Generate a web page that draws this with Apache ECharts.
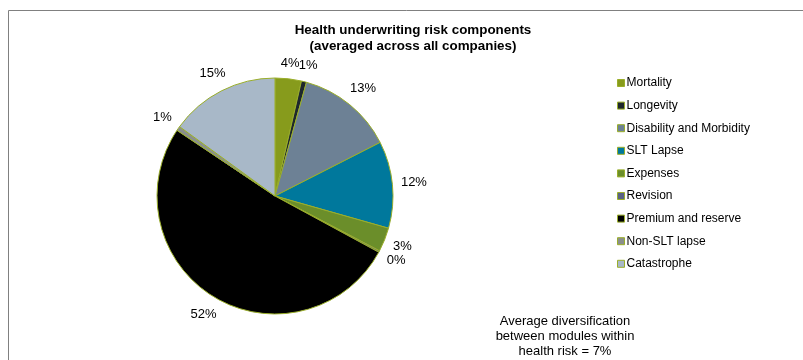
<!DOCTYPE html>
<html>
<head>
<meta charset="utf-8">
<script src="https://cdn.jsdelivr.net/npm/echarts@6/dist/echarts.min.js"></script>
<style>
  html, body { margin: 0; padding: 0; background: #fff; }
  #chart { width: 803px; height: 360px; }
</style>
</head>
<body>
<div id="chart"></div>
<script>
// risk components, clockwise from 12 o'clock
var components = ['Mortality', 'Longevity', 'Disability and Morbidity', 'SLT Lapse', 'Expenses',
    'Revision', 'Premium and reserve', 'Non-SLT lapse', 'Catastrophe'];
// share of total (percent)
var shares = [3.6, 0.7, 13.2, 11.9, 3.3, 0.2, 51.5, 0.6, 15.0];
var colours = ['#879b1c', '#1e272d', '#6d8195', '#00789c', '#6b8e2a',
    '#5a6384', '#000000', '#8a8f8c', '#a8b8c8'];

var pieCenter = [275, 196];
var pieRadius = 118;

var chart = echarts.init(document.getElementById('chart'));

chart.setOption({
    animation: false,
    textStyle: { fontFamily: 'Liberation Sans, Arial, sans-serif' },
    title: {
        text: 'Health underwriting risk components\n(averaged across all companies)',
        left: 408,
        textAlign: 'center',
        top: 17,
        textStyle: { fontSize: 13.4, fontWeight: 'bold', color: '#000', lineHeight: 16 }
    },
    legend: {
        orient: 'vertical',
        left: 612,
        top: 72,
        itemWidth: 7,
        itemHeight: 7,
        itemGap: 10.6,
        icon: 'rect',
        itemStyle: { borderColor: '#9aae2a', borderWidth: 1 },
        textStyle: { fontSize: 12, color: '#000', lineHeight: 12, padding: [0, 0, 0, -3] },
        data: components
    },
    graphic: [
        {
            type: 'rect',
            shape: { x: 8.5, y: 10.5, width: 820, height: 380 },
            style: { fill: 'none', stroke: '#808080', lineWidth: 1 },
            silent: true
        },
        {
            type: 'text',
            x: 565,
            y: 314,
            style: {
                text: 'Average diversification\nbetween modules within\nhealth risk = 7%',
                textAlign: 'center',
                textVerticalAlign: 'top',
                fontSize: 13,
                lineHeight: 15,
                fill: '#000',
                fontFamily: 'Liberation Sans, Arial, sans-serif'
            }
        }
    ],
    series: [{
        type: 'pie',
        center: pieCenter,
        radius: pieRadius,
        startAngle: 90,
        clockwise: true,
        avoidLabelOverlap: false,
        itemStyle: { borderColor: '#9aae2a', borderWidth: 1 },
        label: {
            position: 'outside',
            fontSize: 13,
            color: '#000',
            formatter: function (p) { return Math.round(p.value) + '%'; }
        },
        labelLine: { show: false, length: 6, length2: 0 },
        // centre each label on the slice bisector, a little outside the rim
        labelLayout: function (params) {
            var pt = params.labelLinePoints && params.labelLinePoints[0];
            if (!pt) return {};
            var dx = pt[0] - pieCenter[0], dy = pt[1] - pieCenter[1];
            var len = Math.sqrt(dx * dx + dy * dy) || 1;
            dx /= len; dy /= len;
            var w = params.labelRect.width, h = params.labelRect.height;
            var d = pieRadius + 8 + Math.abs(dx) * w / 2 + Math.abs(dy) * h / 2;
            return {
                x: pieCenter[0] + dx * d,
                y: pieCenter[1] + dy * d,
                align: 'center',
                verticalAlign: 'middle',
                hideOverlap: false,
                moveOverlap: false
            };
        },
        emphasis: { disabled: true },
        data: components.map(function (name, i) {
            return { name: name, value: shares[i], itemStyle: { color: colours[i] } };
        })
    }]
});
</script>
</body>
</html>
